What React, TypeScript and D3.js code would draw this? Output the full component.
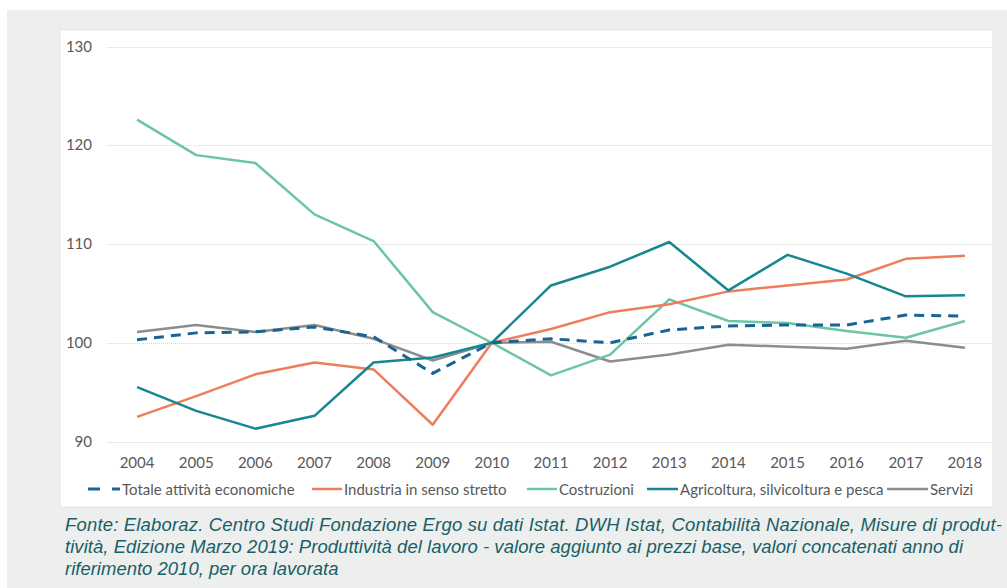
import React, { useEffect, useRef } from 'react';
import * as d3 from 'd3';

const years = ['2004', '2005', '2006', '2007', '2008', '2009', '2010', '2011', '2012', '2013', '2014', '2015', '2016', '2017', '2018'];
const yTicks = [90, 100, 110, 120, 130];

const totale = [100.3, 101.0, 101.1, 101.6, 100.6, 96.9, 100, 100.4, 100.0, 101.3, 101.7, 101.8, 101.8, 102.8, 102.7];
const industria = [92.5, 94.6, 96.8, 98.0, 97.3, 91.7, 100, 101.4, 103.1, 103.9, 105.2, 105.8, 106.4, 108.5, 108.8];
const costruzioni = [122.6, 119.0, 118.2, 113.0, 110.3, 103.1, 100, 96.7, 98.8, 104.4, 102.2, 102.0, 101.2, 100.5, 102.2];
const agricoltura = [95.5, 93.1, 91.3, 92.6, 98.0, 98.5, 100, 105.8, 107.7, 110.2, 105.3, 108.9, 107.0, 104.7, 104.8];
const servizi = [101.1, 101.8, 101.1, 101.8, 100.4, 98.2, 100, 100.1, 98.1, 98.8, 99.8, 99.6, 99.4, 100.2, 99.5];

const seriesNames = ['Totale attività economiche', 'Industria in senso stretto', 'Costruzioni', 'Agricoltura, silvicoltura e pesca', 'Servizi'];
const seriesColors = ['#1a6495', '#ee7d5c', '#6cc5a5', '#16878f', '#8d8d8d'];

const footer = [
  'Fonte: Elaboraz. Centro Studi Fondazione Ergo su dati Istat. DWH Istat, Contabilità Nazionale, Misure di produt-',
  'tività, Edizione Marzo 2019: Produttività del lavoro - valore aggiunto ai prezzi base, valori concatenati anno di',
  'riferimento 2010, per ora lavorata',
];

const App = () => {
  const svgRef = useRef<SVGSVGElement>(null);

  useEffect(() => {
    const svg = d3.select(svgRef.current);
    svg.selectAll('*').remove();

    const W = 1007;
    const H = 588;
    const font = 'Lato, "Open Sans", sans-serif';
    const fs = 15;

    // backgrounds
    svg.append('rect').attr('x', 7).attr('y', 10).attr('width', W - 7).attr('height', H - 10).attr('fill', '#edefee');
    svg.append('rect').attr('x', 60).attr('y', 30).attr('width', 933).attr('height', 477).attr('fill', '#ffffff')
      .attr('stroke', '#e4e6e5').attr('stroke-width', 1);

    const x = d3.scaleBand().domain(years).range([107.5, 994.5]);
    const y = d3.scaleLinear().domain([90, 130]).range([441.5, 46.5]);
    const cx = (d: string) => (x(d) as number) + x.bandwidth() / 2;

    // grid
    svg.append('g').selectAll('line').data(yTicks).join('line')
      .attr('x1', 107).attr('x2', 992)
      .attr('y1', d => Math.round(y(d)) + 0.5).attr('y2', d => Math.round(y(d)) + 0.5)
      .attr('stroke', '#d6d6d6').attr('stroke-width', 1).attr('stroke-dasharray', '1,1');

    svg.append('g').selectAll('text').data(yTicks).join('text')
      .attr('x', 92).attr('y', d => y(d) + 5)
      .attr('text-anchor', 'end').attr('font-family', font).attr('font-size', fs).attr('fill', '#595959')
      .text(d => d);

    svg.append('g').selectAll('text').data(years).join('text')
      .attr('x', d => cx(d)).attr('y', 468)
      .attr('text-anchor', 'middle').attr('font-family', font).attr('font-size', fs).attr('fill', '#595959')
      .text(d => d);

    const allSeries = [totale, industria, costruzioni, agricoltura, servizi];
    const line = d3.line<number>().x((_, i) => cx(years[i])).y(d => y(d));

    // servizi underneath, dashed totale on top
    const order = [4, 2, 1, 3, 0];
    order.forEach(k => {
      svg.append('path')
        .datum(allSeries[k])
        .attr('fill', 'none')
        .attr('stroke', seriesColors[k])
        .attr('stroke-width', k === 0 ? 3 : 2.5)
        .attr('stroke-linejoin', 'round')
        .attr('stroke-dasharray', k === 0 ? '10,7' : null)
        .attr('d', line);
    });

    // legend
    const legendX = [88, 312, 527, 647, 887];
    const legendSym = [32, 30, 30, 31, 41];
    const lg = svg.append('g');
    seriesNames.forEach((name, i) => {
      const x0 = legendX[i];
      if (i === 0) {
        lg.append('line').attr('x1', x0).attr('x2', x0 + 12).attr('y1', 489).attr('y2', 489)
          .attr('stroke', seriesColors[i]).attr('stroke-width', 3);
        lg.append('line').attr('x1', x0 + 24).attr('x2', x0 + 32).attr('y1', 489).attr('y2', 489)
          .attr('stroke', seriesColors[i]).attr('stroke-width', 3);
      } else {
        lg.append('line').attr('x1', x0).attr('x2', x0 + legendSym[i]).attr('y1', 489).attr('y2', 489)
          .attr('stroke', seriesColors[i]).attr('stroke-width', 2.5);
      }
      lg.append('text').attr('x', x0 + legendSym[i] + 2).attr('y', 494.5)
        .attr('font-family', font).attr('font-size', fs).attr('fill', '#595959')
        .text(name);
    });

    // footer
    const fy = [531, 553, 575];
    const flen = [937, 898, null];
    footer.forEach((t, i) => {
      const tx = svg.append('text').attr('x', 65).attr('y', fy[i])
        .attr('font-family', '"Liberation Sans", Arial, sans-serif').attr('font-style', 'italic')
        .attr('font-size', 18.5).attr('fill', '#1a5f67')
        .text(t);
      if (flen[i]) tx.attr('textLength', flen[i] as number).attr('lengthAdjust', 'spacing');
    });
  }, []);

  return (
    <svg ref={svgRef} width={1007} height={588} style={{ position: 'absolute', left: 0, top: 0, background: '#fff' }} />
  );
};

export default App;
